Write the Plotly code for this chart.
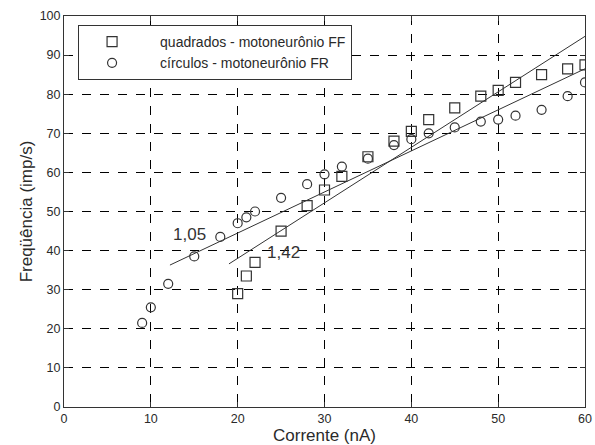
import plotly.graph_objects as go

# Data
ff_x = [20, 21, 22, 25, 28, 30, 32, 35, 38, 40, 42, 45, 48, 50, 52, 55, 58, 60]
ff_y = [29, 33.5, 37, 45, 51.5, 55.5, 59, 64, 68, 70.5, 73.5, 76.5, 79.5, 81, 83, 85, 86.5, 87.5]

fr_x = [9, 10, 12, 15, 18, 20, 21, 22, 25, 28, 30, 32, 35, 38, 40, 42, 45, 48, 50, 52, 55, 58, 60]
fr_y = [21.5, 25.5, 31.5, 38.5, 43.5, 47, 48.5, 50, 53.5, 57, 59.5, 61.5, 63.5, 67, 68.5, 70, 71.5, 73, 73.5, 74.5, 76, 79.5, 83]

ff_fit_x = [19, 60]
ff_fit_y = [36.6, 94.8]
fr_fit_x = [12.2, 60]
fr_fit_y = [36.3, 86.5]

slope_labels = ["1,05", "1,42"]
slope_label_x = [14.5, 25.3]
slope_label_y = [44.2, 39.4]

x_ticks = [0, 10, 20, 30, 40, 50, 60]
y_ticks = [0, 10, 20, 30, 40, 50, 60, 70, 80, 90, 100]

FONT = "Liberation Sans, Arial, sans-serif"
INK = "#333333"
TXT = "#2a2a2a"

fig = go.Figure()

fig.add_trace(go.Scatter(x=ff_fit_x, y=ff_fit_y, mode="lines",
                         line=dict(color=INK, width=1), showlegend=False, hoverinfo="skip"))
fig.add_trace(go.Scatter(x=fr_fit_x, y=fr_fit_y, mode="lines",
                         line=dict(color=INK, width=1), showlegend=False, hoverinfo="skip"))

fig.add_trace(go.Scatter(x=ff_x, y=ff_y, mode="markers",
                         name="quadrados - motoneurônio FF",
                         marker=dict(symbol="square-open", size=10, color=INK,
                                     line=dict(width=1.2, color=INK))))
fig.add_trace(go.Scatter(x=fr_x, y=fr_y, mode="markers",
                         name="círculos - motoneurônio FR",
                         marker=dict(symbol="circle-open", size=9, color=INK,
                                     line=dict(width=1.2, color=INK))))

for t, xx, yy in zip(slope_labels, slope_label_x, slope_label_y):
    fig.add_annotation(x=xx, y=yy, text=t, showarrow=False,
                       font=dict(family=FONT, size=17, color=INK))

axis_common = dict(
    showline=True, linecolor=INK, linewidth=1, mirror="ticks",
    ticks="inside", ticklen=5, tickcolor=INK, tickwidth=1,
    showgrid=True, gridcolor="#000000", gridwidth=1, griddash="dash",
    zeroline=False, automargin=False,
    tickfont=dict(family=FONT, size=12.5, color=TXT),
)

fig.update_xaxes(range=[0, 60], tickvals=x_ticks, ticktext=[str(v) for v in x_ticks],
                 title=dict(text="Corrente (nA)", font=dict(family=FONT, size=17, color=TXT),
                            standoff=0),
                 **axis_common)
fig.update_yaxes(range=[0, 100], tickvals=y_ticks, ticktext=[str(v) for v in y_ticks],
                 title=dict(text="Freqüência (imp/s)", font=dict(family=FONT, size=17, color=TXT),
                            standoff=2),
                 **axis_common)

fig.update_layout(
    width=595, height=445,
    margin=dict(l=64, r=10, t=16, b=38),
    paper_bgcolor="white", plot_bgcolor="white",
    font=dict(family=FONT, color=TXT),
    legend=dict(x=0.027, y=0.977, xanchor="left", yanchor="top",
                bgcolor="white", bordercolor=INK, borderwidth=1,
                font=dict(family=FONT, size=14, color=TXT),
                itemwidth=86, indentation=-15, tracegroupgap=0),
)

fig.write_html("out.html")
